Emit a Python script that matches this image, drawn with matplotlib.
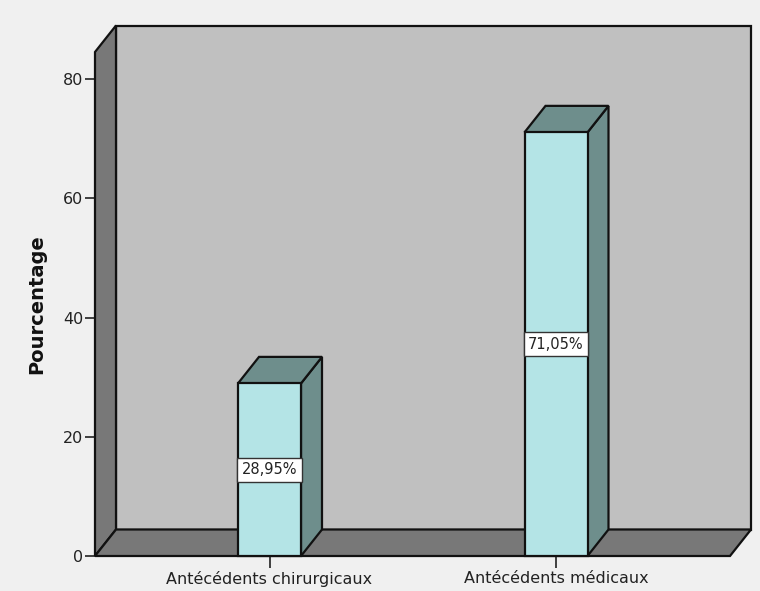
import matplotlib
matplotlib.use("Agg")
import matplotlib.pyplot as plt
from matplotlib.patches import Polygon

categories = ["Antécédents chirurgicaux", "Antécédents médicaux"]
values = [28.95, 71.05]
labels = ["28,95%", "71,05%"]
yticks = [0, 20, 40, 60, 80]

W, H = 760, 591
fig = plt.figure(figsize=(W / 100, H / 100), dpi=100, facecolor="#f0f0f0")

# front plane in pixels
left_px, right_px, bottom_px, top_px = 95, 730, 556, 52
ax = fig.add_axes([left_px / W, (H - bottom_px) / H, (right_px - left_px) / W, (bottom_px - top_px) / H])
ax.set_facecolor("none")

px_per_unit_y = (556 - 79) / 80.0
ymax = (bottom_px - top_px) / px_per_unit_y
px_per_cat = 286.5
xmin = (left_px - 269.5) / px_per_cat
xmax = (right_px - 269.5) / px_per_cat
ax.set_xlim(xmin, xmax)
ax.set_ylim(0, ymax)

dx = 21 / px_per_cat
dy = 26.5 / px_per_unit_y
bw = 63 / px_per_cat

lw = 1.6
ec = "#111111"

def poly(pts, fc, z):
    ax.add_patch(Polygon(pts, closed=True, facecolor=fc, edgecolor=ec, linewidth=lw,
                         joinstyle="miter", clip_on=False, zorder=z))

# back wall
poly([(xmin + dx, dy), (xmax + dx, dy), (xmax + dx, ymax + dy), (xmin + dx, ymax + dy)], "#c0c0c0", 1)
# left wall
poly([(xmin, 0), (xmin + dx, dy), (xmin + dx, ymax + dy), (xmin, ymax)], "#787878", 2)
# floor
poly([(xmin, 0), (xmax, 0), (xmax + dx, dy), (xmin + dx, dy)], "#787878", 2)

front_c = "#b4e4e6"
shade_c = "#6e8e8c"
for i, v in enumerate(values):
    x0, x1 = i - bw / 2, i + bw / 2
    poly([(x1, 0), (x1 + dx, dy), (x1 + dx, v + dy), (x1, v)], shade_c, 3)
    poly([(x0, v), (x1, v), (x1 + dx, v + dy), (x0 + dx, v + dy)], shade_c, 3)
    poly([(x0, 0), (x1, 0), (x1, v), (x0, v)], front_c, 4)
    ax.text(i, v / 2, labels[i], ha="center", va="center", fontsize=10.5, color="#222222", zorder=6,
            bbox=dict(boxstyle="square,pad=0.3", facecolor="white", edgecolor="#333333", linewidth=1))

for s in ["top", "right", "bottom", "left"]:
    ax.spines[s].set_visible(False)

ax.set_yticks(yticks)
ax.set_yticklabels([str(t) for t in yticks])
ax.set_xticks(range(len(categories)))
ax.set_xticklabels(categories)
ax.tick_params(axis="y", direction="out", length=7.5, width=1.2, pad=1, labelsize=11.5, colors="#222222")
ax.tick_params(axis="x", direction="out", length=8.5, width=1.2, pad=2, labelsize=11.5, colors="#222222")

ax.set_ylabel("Pourcentage", fontsize=14, fontweight="bold", color="#111111", labelpad=12)

fig.savefig("out.png", dpi=100, facecolor=fig.get_facecolor())
